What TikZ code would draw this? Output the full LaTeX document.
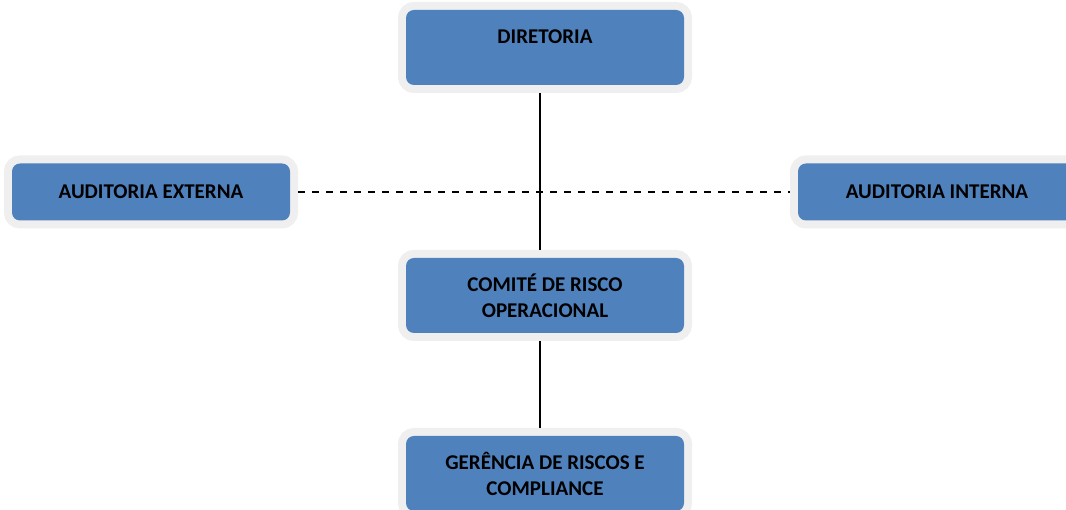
\documentclass[tikz,border=0pt]{standalone}
\usepackage{fontspec}
\setmainfont{Carlito}
\definecolor{boxblue}{HTML}{4F81BD}
\definecolor{rimgray}{HTML}{EFEFEF}
\begin{document}
\begin{tikzpicture}[x=1pt,y=1pt,
  orgbox/.style={rectangle, rounded corners=8pt, fill=boxblue,
    preaction={draw=rimgray, line width=16pt}, outer sep=8pt,
    minimum width=278pt, minimum height=75pt, align=center,
    font=\fontsize{21}{26}\selectfont\bfseries, text=black},
  sidebox/.style={orgbox, minimum height=57pt}]
\useasboundingbox (0,0) rectangle (1066,510);
\node[orgbox, text height=13pt, text depth=20pt] (dir) at (545,462.5){DIRETORIA};
\node[sidebox] (ext) at (151,318){AUDITORIA EXTERNA};
\node[sidebox] (int) at (937,318){AUDITORIA INTERNA};
\node[orgbox] (com) at (545,214.5){COMITÉ DE RISCO\\OPERACIONAL};
\node[orgbox] (ger) at (545,36.5){GERÊNCIA DE RISCOS E\\COMPLIANCE};
\coordinate (spine) at (540,0);
\draw[line width=1.5pt, dash pattern=on 7pt off 7pt](ext.east) -- (int.west);
\draw[line width=2pt](dir.south -| spine) -- (com.north -| spine);
\draw[line width=2pt](com.south -| spine) -- (ger.north -| spine);
\end{tikzpicture}
\end{document}
